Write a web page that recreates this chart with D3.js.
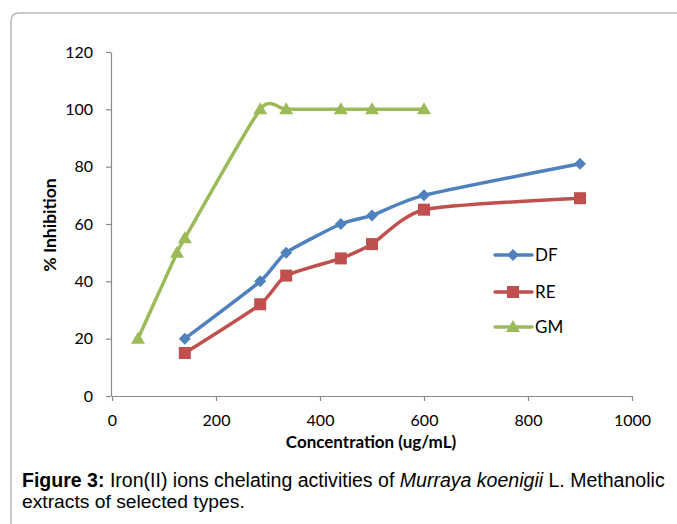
<!DOCTYPE html>
<html><head><meta charset="utf-8">
<script src="https://cdn.jsdelivr.net/npm/d3@7"></script>
<style>
html,body{margin:0;padding:0;background:#fff;}
svg{display:block;}
</style></head>
<body>
<svg id="chart" width="677" height="524"></svg>
<script>
const xTicks = [0, 200, 400, 600, 800, 1000];
const yTicks = [0, 20, 40, 60, 80, 100, 120];
const dfX = [140, 285, 335, 440, 500, 600, 900];
const dfY = [20, 40, 50, 60, 63, 70, 81];
const reX = [140, 285, 335, 440, 500, 600, 900];
const reY = [15, 32, 42, 48, 53, 65, 69];
const gmX = [50, 125, 140, 285, 335, 440, 500, 600];
const gmY = [20, 50, 55, 100, 100, 100, 100, 100];
const seriesNames = ["DF", "RE", "GM"];
const seriesColors = ["#4F81BD", "#C0504D", "#9BBB59"];
const markerTypes = ["diamond", "square", "triangle"];

const svg = d3.select("#chart");
const font = "Lato, 'Open Sans', sans-serif";
const capFont = "'Liberation Sans', Arial, sans-serif";

// frame (top-left rounded corner)
svg.append("path")
  .attr("d", "M11,524 L11,21 Q11,13 19,13 L677,13")
  .attr("fill", "none").attr("stroke", "#b8b8b8").attr("stroke-width", 1.5);

const x = d3.scaleLinear().domain([0, 1000]).range([112, 632]);
const y = d3.scaleLinear().domain([0, 120]).range([396, 52]);

const xAxis = svg.append("g").attr("transform", "translate(0,396)")
  .call(d3.axisBottom(x).tickValues(xTicks).tickFormat(d3.format("d")).tickSize(5).tickSizeOuter(0).tickPadding(14));
const yAxis = svg.append("g").attr("transform", "translate(111,0)")
  .call(d3.axisLeft(y).tickValues(yTicks).tickFormat(d3.format("d")).tickSize(5).tickSizeOuter(0).tickPadding(13));
[xAxis, yAxis].forEach(g => {
  g.select(".domain").attr("stroke", "#8a8a8a").attr("stroke-width", 1.2);
  g.selectAll(".tick line").attr("stroke", "#8a8a8a").attr("stroke-width", 1.2);
  g.selectAll(".tick text").attr("font-family", font).attr("font-size", 16).attr("fill", "#000");
});

svg.append("text").attr("x", 371).attr("y", 448).attr("text-anchor", "middle")
  .attr("font-family", font).attr("font-weight", "bold").attr("font-size", 17)
  .text("Concentration (ug/mL)");
svg.append("text").attr("transform", "translate(56,225) rotate(-90)").attr("text-anchor", "middle")
  .attr("font-family", font).attr("font-weight", "bold").attr("font-size", 17.5)
  .text("% Inhibition");

const data = [
  dfX.map((v, i) => [v, dfY[i]]),
  reX.map((v, i) => [v, reY[i]]),
  gmX.map((v, i) => [v, gmY[i]])
];

const line = d3.line().x(d => x(d[0])).y(d => y(d[1])).curve(d3.curveCardinal.tension(0.4));

function marker(g, type, color) {
  if (type === "diamond") g.append("path").attr("d", "M0,-6 L6,0 L0,6 L-6,0Z").attr("fill", color);
  else if (type === "square") g.append("rect").attr("x", -6).attr("y", -6).attr("width", 12).attr("height", 12).attr("fill", color);
  else g.append("path").attr("d", "M0,-7 L7,5 L-7,5Z").attr("fill", color);
}

[2, 1, 0].forEach(k => {
  svg.append("path").datum(data[k]).attr("d", line)
    .attr("fill", "none").attr("stroke", seriesColors[k]).attr("stroke-width", 3.5)
    .attr("stroke-linejoin", "round").attr("stroke-linecap", "round");
  data[k].forEach(d => {
    const g = svg.append("g").attr("transform", `translate(${x(d[0])},${y(d[1])})`);
    marker(g, markerTypes[k], seriesColors[k]);
  });
});

// legend
const legY = [255, 292, 327];
seriesNames.forEach((n, k) => {
  svg.append("line").attr("x1", 495).attr("x2", 532).attr("y1", legY[k]).attr("y2", legY[k])
    .attr("stroke", seriesColors[k]).attr("stroke-width", 3.5).attr("stroke-linecap", "round");
  const g = svg.append("g").attr("transform", `translate(513,${legY[k]})`);
  marker(g, markerTypes[k], seriesColors[k]);
  svg.append("text").attr("x", 535).attr("y", legY[k] + 6).attr("font-family", font).attr("font-size", 17)
    .text(n);
});

// caption
function fit(t, w) {
  const L = t.node().getComputedTextLength();
  const fs = parseFloat(t.attr("font-size"));
  t.attr("font-size", fs * w / L);
}
const cap = svg.append("text").attr("x", 22).attr("y", 487).attr("font-family", capFont).attr("font-size", 16);
cap.append("tspan").attr("font-weight", "bold").text("Figure 3:");
cap.append("tspan").text(" Iron(II) ions chelating activities of ");
cap.append("tspan").attr("font-style", "italic").text("Murraya koenigii");
cap.append("tspan").text(" L. Methanolic");
fit(cap, 643);
const cap2 = svg.append("text").attr("x", 22).attr("y", 508).attr("font-family", capFont).attr("font-size", 16)
  .text("extracts of selected types.");
fit(cap2, 223);
</script>
</body></html>
